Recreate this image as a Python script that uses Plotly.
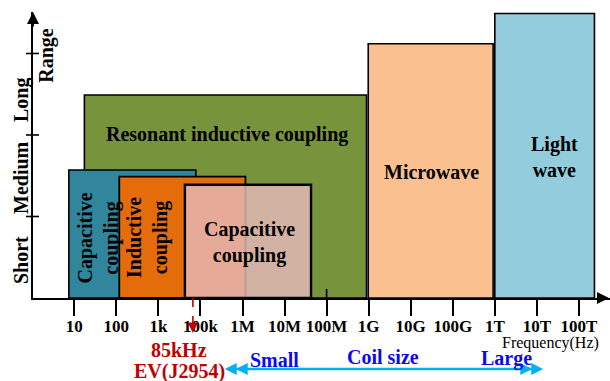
import plotly.graph_objects as go

# ---- data (x positions are on the frequency-decade index scale of the axis) ----
freq_labels = ["10", "100", "1k", "100k", "1M", "10M", "100M", "1G", "10G", "100G", "1T", "10T", "100T"]
range_labels = ["Short", "Medium", "Long"]

band_names = ["Resonant inductive coupling", "Capacitive coupling (near)", "Inductive coupling",
              "Capacitive coupling", "Microwave", "Light wave"]
band_start = [0.24, -0.13, 1.07, 2.63, 6.99, 10.00]
band_end = [6.95, 2.89, 4.07, 5.63, 9.96, 12.37]
band_range = [2.49, 1.57, 1.49, 1.39, 3.12, 3.49]

ev_freq_pos = 2.82          # 85 kHz EV (J2954) marker
coil_arrow = [3.58, 11.15]  # coil size arrow extent

# ---- styling ----
FONT = "Liberation Serif, Times New Roman, serif"
band_fill = ["#77933C", "#31859C", "#E46C0A", "rgba(230,185,184,0.82)", "#FAC090", "#93CDDD"]
band_line_w = [1.6, 1.6, 1.8, 2.4, 1.6, 1.6]

fig = go.Figure()
for name, s, e, h, c, lw in zip(band_names, band_start, band_end, band_range, band_fill, band_line_w):
    fig.add_trace(go.Bar(
        x=[(s + e) / 2], y=[h], base=0, width=[e - s], name=name,
        marker=dict(color=c, line=dict(color="black", width=lw)),
        hoverinfo="skip", showlegend=False))

W, H = 610, 381
ML, MR, MT, MB = 33, 0, 12, 83
pw = W - ML - MR
ph = H - MT - MB

fig.update_layout(
    width=W, height=H, margin=dict(l=ML, r=MR, t=MT, b=MB),
    plot_bgcolor="white", paper_bgcolor="white", barmode="overlay", showlegend=False,
    xaxis=dict(range=[-0.9822, 12.7396], tickmode="array", tickvals=list(range(len(freq_labels))),
               ticktext=freq_labels, ticks="outside", ticklen=16, tickwidth=2, tickcolor="black",
               showline=True, linecolor="black", linewidth=2, showgrid=False, zeroline=False,
               automargin=False,
               tickfont=dict(family=FONT, size=17, color="black", weight="bold")),
    yaxis=dict(range=[0, 3.509], showline=True, linecolor="black", linewidth=2, showgrid=False,
               zeroline=False, showticklabels=False, ticks="", automargin=False),
)
try:
    fig.update_xaxes(ticklabelstandoff=-4)
except Exception:
    pass

# y-axis crossing ticks
for k in range(1, len(range_labels) + 1):
    fig.add_shape(type="line", xref="paper", yref="y", x0=-7 / pw, x1=6 / pw, y0=k, y1=k,
                  line=dict(color="black", width=1.6))

# tick stubs visible above the axis inside the boxes (10M under the translucent box, 100M on top)
fig.add_shape(type="line", xref="x", yref="y", x0=5, x1=5, y0=0, y1=0.11, layer="below",
              line=dict(color="black", width=1.6))
fig.add_shape(type="line", xref="x", yref="y", x0=6, x1=6, y0=0, y1=0.11, layer="above",
              line=dict(color="black", width=1.6))

ann = []
def txt(text, x, y, xref="x", yref="y", size=20, color="black", angle=0, weight="bold"):
    ann.append(dict(text=text, x=x, y=y, xref=xref, yref=yref, showarrow=False, textangle=angle,
                    xanchor="center", yanchor="middle",
                    font=dict(family=FONT, size=size, color=color, weight=weight)))

# axis arrows
ann.append(dict(text="", x=0, y=1.0, xref="paper", yref="paper", ax=0, ay=16, axref="pixel", ayref="pixel",
                showarrow=True, arrowhead=2, arrowsize=1.2, arrowwidth=2, arrowcolor="black", standoff=0))
ann.append(dict(text="", x=1.007, y=0, xref="paper", yref="paper", ax=-16, ay=0, axref="pixel", ayref="pixel",
                showarrow=True, arrowhead=2, arrowsize=1.2, arrowwidth=2, arrowcolor="black", standoff=0))

# y labels
ypos = {"Short": 260, "Medium": 178, "Long": 100}
for lab in range_labels:
    txt(lab, (21 - ML) / pw, (298 - ypos[lab]) / ph, xref="paper", yref="paper", angle=-90)
txt("Range", (46.7 - ML) / pw, (298 - 55) / ph, xref="paper", yref="paper", angle=-90)

# band labels
txt("Resonant inductive coupling", 3.63, 2.0)
txt("Capacitive<br>coupling", 0.575, 0.736, angle=-90)
txt("Inductive<br>coupling", 1.729, 0.736, angle=-90)
txt("Capacitive<br>coupling", 4.155, 0.675)
txt("Microwave", 8.50, 1.55)
txt("Light<br>wave", 11.41, 1.73)

# x axis title
txt("Frequency(Hz)", 11.33, (298 - 343) / ph, yref="paper", size=16, weight="normal")

# EV marker
RED = "#C00000"
fig.add_shape(type="line", xref="x", yref="paper", x0=ev_freq_pos, x1=ev_freq_pos, y0=0, y1=(298 - 324) / ph,
              line=dict(color=RED, width=1.6, dash="dash"))
ann.append(dict(text="", x=ev_freq_pos, y=(298 - 333) / ph, xref="x", yref="paper", ax=0, ay=-12,
                axref="pixel", ayref="pixel", showarrow=True, arrowhead=2, arrowsize=1.4, arrowwidth=1.5,
                arrowcolor=RED, standoff=0))
txt("85kHz", 2.49, (298 - 350) / ph, yref="paper", color=RED)
txt("EV(J2954)", 2.51, (298 - 371.6) / ph, yref="paper", color=RED)

# coil size arrow
CYAN = "#00B0F0"
ya = (298 - 369) / ph
fig.add_shape(type="line", xref="x", yref="paper", x0=coil_arrow[0] + 0.1, x1=coil_arrow[1] - 0.1, y0=ya, y1=ya,
              line=dict(color=CYAN, width=2.5))
dx = 11 / 42.05
for tip, sgn in [(coil_arrow[0], 1), (coil_arrow[0] + dx, 1), (coil_arrow[1], -1), (coil_arrow[1] - dx, -1)]:
    ann.append(dict(text="", x=tip, y=ya, xref="x", yref="paper", ax=sgn * 8, ay=0, axref="pixel", ayref="pixel",
                    showarrow=True, arrowhead=2, arrowsize=0.95, arrowwidth=2.5, arrowcolor=CYAN, standoff=0))
BLUE = "#0A0AF0"
txt("Small", 4.749, (298 - 360) / ph, yref="paper", color=BLUE)
txt("Coil size", 7.34, (298 - 356.7) / ph, yref="paper", color=BLUE)
txt("Large", 10.29, (298 - 358) / ph, yref="paper", color=BLUE)

fig.update_layout(annotations=ann)
fig.write_html("out.html", config={"displayModeBar": False},
               post_script="document.body.style.margin='0';document.body.style.overflow='hidden';")
